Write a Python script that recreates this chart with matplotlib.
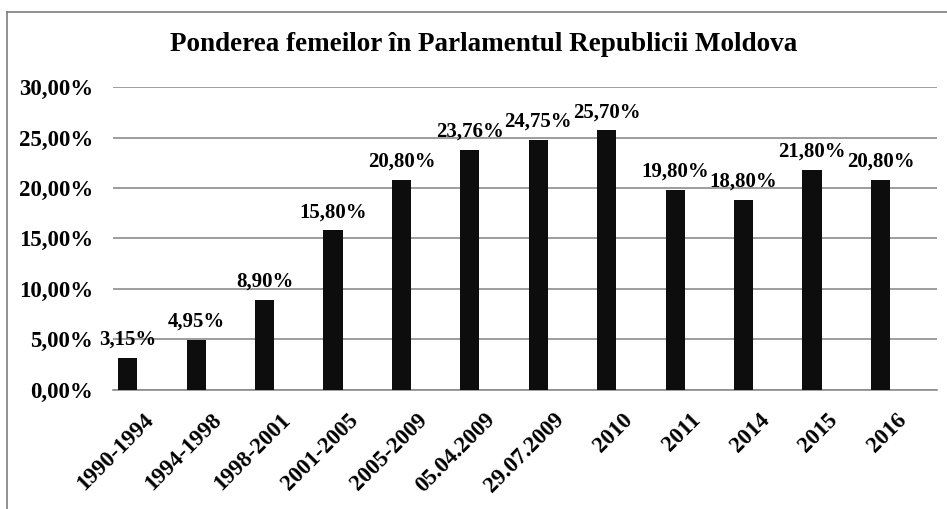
import matplotlib.pyplot as plt
from matplotlib.lines import Line2D
from matplotlib.transforms import ScaledTranslation

perioade = ["1990-1994", "1994-1998", "1998-2001", "2001-2005", "2005-2009",
            "05.04.2009", "29.07.2009", "2010", "2011", "2014", "2015", "2016"]
pondere = [3.15, 4.95, 8.90, 15.80, 20.80, 23.76, 24.75, 25.70, 19.80, 18.80, 21.80, 20.80]
etichete = ["3,15%", "4,95%", "8,90%", "15,80%", "20,80%", "23,76%",
            "24,75%", "25,70%", "19,80%", "18,80%", "21,80%", "20,80%"]
y_ticks = [0, 5, 10, 15, 20, 25, 30]

plt.rcParams["font.family"] = ["Liberation Serif", "DejaVu Serif"]
plt.rcParams["font.weight"] = "bold"

fig = plt.figure(figsize=(9.47, 5.09), dpi=100)
ax = fig.add_axes([0.119, 0.234, 0.870, 0.595])

x = range(len(perioade))
bars = ax.bar(x, pondere, width=0.28, color="#0d0d0d", zorder=3)
for b, t in zip(bars, etichete):
    ax.text(b.get_x() + b.get_width() / 2, b.get_height() + 0.8, t,
            ha="center", va="bottom", fontsize=15, fontweight="bold")

ax.set_xlim(-0.22, len(perioade) - 1 + 0.82)
ax.set_ylim(0, 30)
ax.set_yticks(y_ticks)
ax.set_yticklabels([f"{v:.2f}".replace(".", ",") + "%" for v in y_ticks],
                   fontsize=16.5, fontweight="bold")
ax.set_xticks(list(x))
ax.set_xticklabels(perioade, rotation=45, ha="right", rotation_mode="anchor",
                   fontsize=16.5, fontweight="bold")
ax.tick_params(axis="both", length=0)
ax.tick_params(axis="y", pad=14)
ax.tick_params(axis="x", pad=14)
deplasare = ScaledTranslation(0.15, 0, fig.dpi_scale_trans)
for lbl in ax.get_xticklabels():
    lbl.set_transform(lbl.get_transform() + deplasare)
ax.grid(axis="y", color="#8c8c8c", linewidth=1.2, zorder=0)
for s in ["top", "right", "left"]:
    ax.spines[s].set_visible(False)
ax.spines["bottom"].set_color("#8c8c8c")
ax.spines["bottom"].set_linewidth(1.2)

fig.text(0.511, 0.912, "Ponderea femeilor în Parlamentul Republicii Moldova",
         ha="center", va="center", fontsize=19.5, fontweight="bold")

# chenarul graficului
fig.add_artist(Line2D([0.0074, 1.0], [0.976, 0.976], color="#7f7f7f", linewidth=1.2))
fig.add_artist(Line2D([0.0074, 0.0074], [0.0, 0.976], color="#7f7f7f", linewidth=1.2))

plt.savefig("out.png", dpi=100)
plt.close()
